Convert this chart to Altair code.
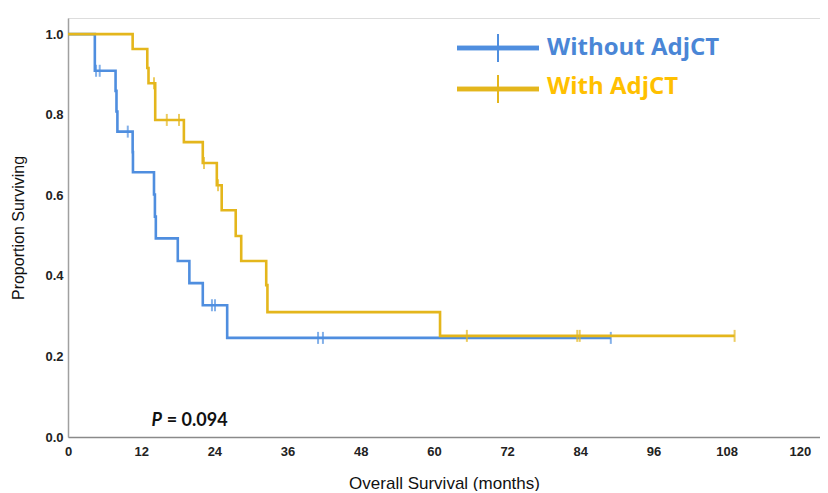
import altair as alt
import pandas as pd

# ---- data ----
blue_t = [0, 4.4, 7.8, 7.95, 8.1, 10.6, 10.65, 14.1, 14.25, 14.4, 18.0, 19.9, 22.1, 26.1, 89.0]
blue_s = [1.0, 0.909, 0.859, 0.808, 0.758, 0.707, 0.657, 0.602, 0.547, 0.493, 0.437, 0.382, 0.327, 0.246, 0.246]
blue_cens_t = [4.6, 5.2, 9.8, 23.6, 24.1, 41.0, 41.8, 89.0]
blue_cens_s = [0.909, 0.909, 0.758, 0.327, 0.327, 0.246, 0.246, 0.246]

yel_t = [0, 10.6, 13.0, 13.2, 14.3, 19.0, 22.1, 24.4, 25.2, 27.5, 28.4, 32.5, 32.7, 61.0, 109.3]
yel_s = [1.0, 0.963, 0.916, 0.878, 0.787, 0.732, 0.680, 0.625, 0.563, 0.499, 0.437, 0.377, 0.310, 0.251, 0.251]
yel_cens_t = [14.1, 16.2, 18.2, 22.3, 24.6, 65.4, 83.5, 83.9, 109.3]
yel_cens_s = [0.878, 0.787, 0.787, 0.680, 0.625, 0.251, 0.251, 0.251, 0.251]

groups = ["Without AdjCT", "With AdjCT"]
x_ticks = [0, 12, 24, 36, 48, 60, 72, 84, 96, 108, 120]
y_ticks = [0.0, 0.2, 0.4, 0.6, 0.8, 1.0]
p_label = "= 0.094"

BLUE = "#4F8EDF"
YEL = "#E4B61C"
BLUE_TXT = "#4A86D6"
YEL_TXT = "#FFC000"

blue_df = pd.DataFrame({"t": blue_t, "s": blue_s})
yel_df = pd.DataFrame({"t": yel_t, "s": yel_s})
blue_c = pd.DataFrame({"t": blue_cens_t, "s": blue_cens_s})
yel_c = pd.DataFrame({"t": yel_cens_t, "s": yel_cens_s})

xs = alt.Scale(domain=[0, 123.3], nice=False, zero=False)
ys = alt.Scale(domain=[0, 1.04], nice=False)

num_font = "Liberation Sans"
xaxis = alt.Axis(values=x_ticks, ticks=False, grid=False, labelFont=num_font,
                 labelFontWeight="bold", labelFontSize=13, labelColor="#222",
                 labelPadding=8, title="Overall Survival (months)",
                 titleFont="Liberation Sans", titleFontSize=17, titleFontWeight="normal",
                 titleColor="#111", titlePadding=17, domainColor="#8a8a8a", domainWidth=1.5,
                 labelFlush=False)
yaxis = alt.Axis(values=y_ticks, format=".1f", ticks=False, grid=False, labelFont=num_font,
                 labelFontWeight="bold", labelFontSize=13, labelColor="#222",
                 labelPadding=5, title="Proportion Surviving",
                 titleFont="Liberation Sans", titleFontSize=16, titleFontWeight="normal",
                 titleColor="#111", titlePadding=18, domainColor="#a0a0a0", domainWidth=1.5)

X = lambda: alt.X("t:Q", scale=xs, axis=xaxis)
Y = lambda: alt.Y("s:Q", scale=ys, axis=yaxis)

def km_line(df, color):
    return alt.Chart(df).mark_line(interpolate="step-after", color=color, strokeWidth=2.6).encode(
        x=X(), y=Y(), order="t:Q")

def km_cens(df, color):
    return alt.Chart(df).mark_tick(orient="vertical", color=color, size=12, thickness=2).encode(
        x=X(), y=Y())

# legend (custom, drawn in plot pixel space)
leg_df = pd.DataFrame({"g": groups})
def leg_rule(y, color):
    return alt.Chart(leg_df).mark_rule(color=color, strokeWidth=4.5).encode(
        x=alt.value(389), x2=alt.value(471), y=alt.value(y))
def leg_tick(y1, y2, color):
    return alt.Chart(leg_df).mark_rule(color=color, strokeWidth=2).encode(
        x=alt.value(430), y=alt.value(y1), y2=alt.value(y2))
def leg_text(label, y, color):
    return alt.Chart(pd.DataFrame({"g": [label]})).mark_text(
        align="left", baseline="middle", font="Open Sans", fontWeight="bold", fontSize=24, color=color
    ).encode(x=alt.value(479), y=alt.value(y), text="g:N")

p_df = pd.DataFrame({"p": ["P"], "rest": [p_label], "t": [13.7], "t2": [16.2], "s": [0.04]})
p1 = alt.Chart(p_df).mark_text(align="left", baseline="middle", font="Lato", fontWeight="bold",
                               fontStyle="italic", fontSize=18, color="#111").encode(
    x=X(), y=Y(), text="p:N")
p2 = alt.Chart(p_df).mark_text(align="left", baseline="middle", font="Lato", fontWeight="bold",
                               fontSize=18, color="#111").encode(
    x=alt.X("t2:Q", scale=xs, axis=xaxis), y=Y(), text="rest:N")

chart = alt.layer(
    km_line(blue_df, BLUE),
    km_cens(blue_c, BLUE),
    km_line(yel_df, YEL),
    km_cens(yel_c, YEL),
    leg_rule(30, BLUE), leg_tick(16, 44, BLUE), leg_text(groups[0], 30, BLUE_TXT),
    leg_rule(71, YEL), leg_tick(57, 85, YEL), leg_text(groups[1], 69, YEL_TXT),
    p1, p2,
).properties(
    width=752, height=419,
    padding={"left": 2, "top": 10, "right": 0, "bottom": 0},
).configure_view(stroke=None).configure(background="white")

chart.save("out.html", embed_options={"renderer": "svg", "actions": False})
